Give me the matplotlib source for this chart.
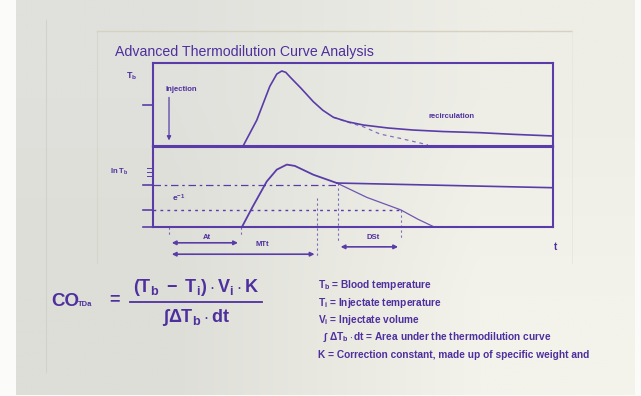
import numpy as np
import matplotlib
matplotlib.use("Agg")
import matplotlib.pyplot as plt
from matplotlib import font_manager

# ---- data -------------------------------------------------------------
# Temperature curve after injection (time units, relative drop of Tb)
curve_t = [9.05, 10.4, 11.7, 12.4, 12.9, 13.3, 13.7, 14.8, 16.05, 17.0, 18.05,
           19.5, 21.05, 23.5, 26.04, 29.0, 32.7, 36.0, 40.0]
curve_dT = [0.0, 0.31, 0.72, 0.87, 0.907, 0.89, 0.837, 0.70, 0.534, 0.43, 0.345,
            0.29, 0.251, 0.215, 0.19, 0.172, 0.158, 0.138, 0.118]
# Extrapolated decay without recirculation
norecirc_t = [18.05, 19.5, 21.05, 22.7, 24.7, 27.5]
norecirc_dT = [0.345, 0.285, 0.23, 0.142, 0.09, 0.01]

# Logarithmic curve (ln Tb)
ln_t = [8.9, 10.0, 11.4, 12.4, 13.4, 14.2, 16.05, 18.4]
ln_val = [0.0, 0.257, 0.568, 0.714, 0.776, 0.76, 0.651, 0.548]
decay_t = [18.4, 21.4, 24.8, 26.5, 28.2]
decay_val = [0.548, 0.37, 0.215, 0.10, 0.0]
plateau_t = [18.4, 40.0]
plateau_val = [0.548, 0.49]

level_max = 0.527      # dash-dot reference level
level_e1 = 0.215       # e^-1 level
t_inject = 1.63
t_appear = 8.8
t_mtt = 16.45
t_ds_start = 18.5
t_ds_end = 24.8

legend_lines = [
    r"$\mathbf{T_b}$ = Blood temperature",
    r"$\mathbf{T_i}$ = Injectate temperature",
    r"$\mathbf{V_i}$ = Injectate volume",
    r"  $\mathbf{\int\ \Delta T_b \cdot dt}$ = Area under the thermodilution curve",
    "K = Correction constant, made up of specific weight and",
]

# ---- fonts ------------------------------------------------------------
names = {f.name for f in font_manager.fontManager.ttflist}
narrow = "Liberation Sans Narrow" if "Liberation Sans Narrow" in names else "Liberation Sans"
plt.rcParams["font.family"] = [narrow, "DejaVu Sans"]
plt.rcParams["mathtext.fontset"] = "custom"
plt.rcParams["mathtext.rm"] = narrow
plt.rcParams["mathtext.it"] = narrow
plt.rcParams["mathtext.bf"] = narrow + ":bold"

INK = "#4e2f9e"
LINE = "#5a3ca8"

W, H = 641, 396
fig = plt.figure(figsize=(W / 100, H / 100), dpi=100)
fig.patch.set_facecolor("#fbfbfa")

# ---- backdrop (page + slide frame), in pixel coordinates ---------------
bg = fig.add_axes([0, 0, 1, 1], zorder=-5)
bg.set_xlim(0, W)
bg.set_ylim(H, 0)
bg.axis("off")
grad = np.array([[[224, 224, 220], [238, 238, 231]],
                 [[222, 222, 216], [243, 243, 235]]], dtype=float) / 255
bg.imshow(grad, extent=(16, 635, 395, 0), interpolation="bilinear", aspect="auto")
bg.plot([46, 46], [20, 372], color="#d2d2cc", lw=0.8)
bg.plot([97, 97], [31, 263], color="#d6d6cc", lw=0.8)
bg.plot([97, 572], [31, 31], color="#d6d1c0", lw=1.0)
bg.plot([572, 572], [31, 263], color="#e6e6dc", lw=0.6)

bg.text(115, 52, "Advanced Thermodilution Curve Analysis", color=INK,
        fontsize=10.2, va="center", ha="left")

# formula
bg.text(51, 302, "CO", color=INK, fontsize=13.5, fontweight="bold", va="center")
bg.text(78, 305, "TDa", color=INK, fontsize=5.5, fontweight="bold", va="center")
bg.text(115, 300, "=", color=INK, fontsize=13, fontweight="bold", va="center", ha="center")
bg.text(196, 288, r"$\mathbf{(T_b\ -\ T_i)\cdot V_i\cdot K}$", color=INK,
        fontsize=13, va="center", ha="center")
bg.plot([130, 262], [302, 302], color=INK, lw=1.3)
bg.text(196, 317, r"$\mathbf{\int \Delta T_b \cdot dt}$", color=INK,
        fontsize=13, va="center", ha="center")

for i, s in enumerate(legend_lines):
    bg.text(318, 285 + 17.5 * i, s, color=INK, fontsize=7.3, fontweight="bold",
            va="center", ha="left")

# ---- panels -----------------------------------------------------------
def frac(px_l, px_t, px_r, px_b):
    return [px_l / W, 1 - px_b / H, (px_r - px_l) / W, (px_b - px_t) / H]

ax1 = fig.add_axes(frac(152.7, 63.3, 553, 145.7))
ax2 = fig.add_axes(frac(152.7, 146.5, 553, 227.3))

for ax in (ax1, ax2):
    ax.set_xlim(0, 40)
    ax.set_ylim(0, 1)
    ax.set_xticks([])
    ax.set_yticks([])
    ax.patch.set_alpha(0)
    for sp in ax.spines.values():
        sp.set_color(LINE)
        sp.set_linewidth(1.5)

# upper panel: temperature curve
ax1.plot(curve_t, curve_dT, color=LINE, lw=1.2, solid_joinstyle="round")
ax1.plot(norecirc_t, norecirc_dT, color=LINE, lw=0.9, ls=(0, (3, 3)), alpha=0.7)
ax1.plot([-0.95, 0], [0.494, 0.494], color=LINE, lw=1.2, clip_on=False)
ax1.annotate("", xy=(t_inject, 0.03), xytext=(t_inject, 0.62),
             arrowprops=dict(arrowstyle="-|>", color=LINE, lw=0.9,
                             mutation_scale=6))
ax1.text(t_inject + 1.25, 0.684, "Injection", color=INK, fontsize=5.5,
         fontweight="bold", ha="center", va="center")
ax1.text(-2.1, 0.84, r"$\mathbf{T_b}$", color=INK, fontsize=6.5,
         ha="center", va="center")
ax1.text(29.9, 0.35, "recirculation", color=INK, fontsize=5.5,
         fontweight="bold", ha="center", va="center")

# lower panel: logarithmic analysis
ax2.plot(ln_t, ln_val, color=LINE, lw=1.3, solid_joinstyle="round")
ax2.plot(decay_t, decay_val, color=LINE, lw=0.9, alpha=0.85)
ax2.plot(plateau_t, plateau_val, color=LINE, lw=1.2)
ax2.plot([0, t_ds_start], [level_max, level_max], color=LINE, lw=0.9,
         ls=(0, (6, 3, 2, 3)))
ax2.plot([0, t_ds_end], [level_e1, level_e1], color=LINE, lw=1.0, ls=(0, (2, 3)))
for yv in (level_max, level_e1, 0.0):
    ax2.plot([-0.95, 0], [yv, yv], color=LINE, lw=1.2, clip_on=False)
for yv in (0.64, 0.69, 0.74):
    ax2.plot([-0.55, 0], [yv, yv], color=LINE, lw=0.7, clip_on=False)

ax2.text(-3.3, 0.685, r"$\mathbf{ln\ T_b}$", color=INK, fontsize=5.5,
         ha="center", va="center")
ax2.text(1.9, 0.36, r"$\mathbf{e^{-1}}$", color=INK, fontsize=6,
         ha="left", va="center")

# vertical guides
guides = [(t_mtt, 0.365, -0.36), (t_ds_start, 0.548, -0.2), (t_ds_end, 0.215, -0.15),
          (t_inject, 0.0, -0.09), (t_appear, 0.0, -0.1)]
for gx, y0, y1 in guides:
    ax2.plot([gx, gx], [y0, y1], color=LINE, lw=0.8, ls=(0, (2, 2.5)),
             alpha=0.75, clip_on=False)

arrow_kw = dict(arrowstyle="<|-|>", color=LINE, lw=1.2, mutation_scale=6)
ax2.annotate("", xy=(t_inject, -0.192), xytext=(t_appear, -0.192),
             arrowprops=arrow_kw, annotation_clip=False)
ax2.annotate("", xy=(t_inject, -0.333), xytext=(t_mtt, -0.333),
             arrowprops=arrow_kw, annotation_clip=False)
ax2.annotate("", xy=(t_ds_start, -0.242), xytext=(t_ds_end, -0.242),
             arrowprops=arrow_kw, annotation_clip=False)
ax2.text(5.4, -0.125, "At", color=INK, fontsize=5.5, fontweight="bold",
         ha="center", va="center", clip_on=False)
ax2.text(11.0, -0.212, "MTt", color=INK, fontsize=5.5, fontweight="bold",
         ha="center", va="center", clip_on=False)
ax2.text(22.0, -0.125, "DSt", color=INK, fontsize=5.5, fontweight="bold",
         ha="center", va="center", clip_on=False)
ax2.text(40.2, -0.245, "t", color=INK, fontsize=7, fontweight="bold",
         ha="center", va="center", clip_on=False)

fig.savefig("out.png", dpi=100)
